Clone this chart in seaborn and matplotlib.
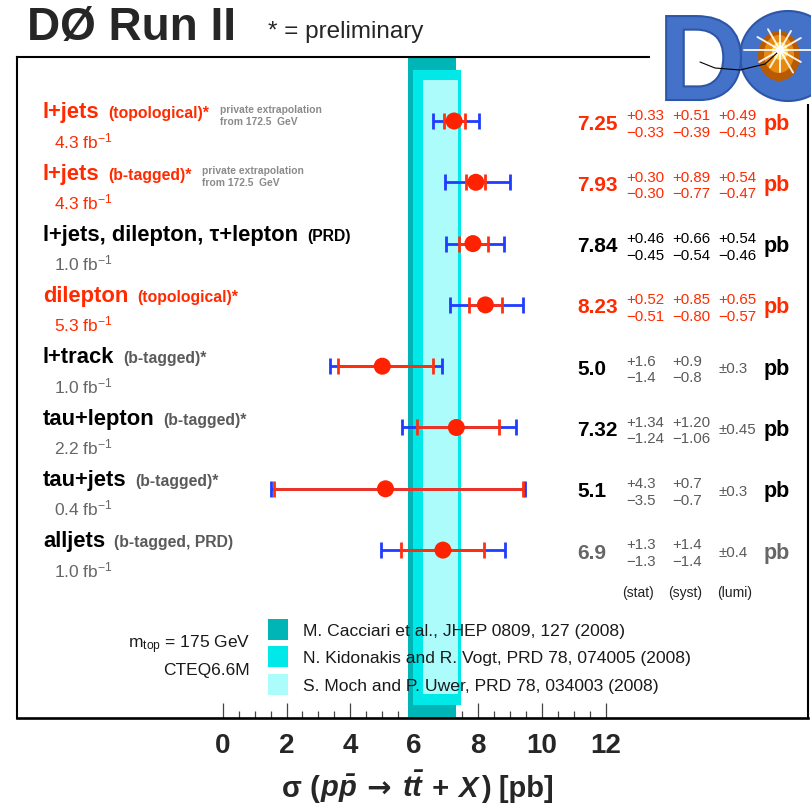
import numpy as np
import matplotlib
matplotlib.use("Agg")
import matplotlib.pyplot as plt
import seaborn as sns
from matplotlib.patches import Ellipse, Rectangle, PathPatch
from matplotlib.textpath import TextPath
from matplotlib.font_manager import FontProperties
from matplotlib.transforms import Affine2D

# ---------------- data ----------------
channels = ["l+jets", "l+jets", "l+jets, dilepton, τ+lepton", "dilepton",
            "l+track", "tau+lepton", "tau+jets", "alljets"]
qualifiers = ["(topological)*", "(b-tagged)*", "(PRD)", "(topological)*",
              "(b-tagged)*", "(b-tagged)*", "(b-tagged)*", "(b-tagged, PRD)"]
extrapolated = [True, True, False, False, False, False, False, False]
lumis = ["4.3", "4.3", "1.0", "5.3", "1.0", "2.2", "0.4", "1.0"]
xsec = ["7.25", "7.93", "7.84", "8.23", "5.0", "7.32", "5.1", "6.9"]
stat_up = ["0.33", "0.30", "0.46", "0.52", "1.6", "1.34", "4.3", "1.3"]
stat_dn = ["0.33", "0.30", "0.45", "0.51", "1.4", "1.24", "3.5", "1.3"]
syst_up = ["0.51", "0.89", "0.66", "0.85", "0.9", "1.20", "0.7", "1.4"]
syst_dn = ["0.39", "0.77", "0.54", "0.80", "0.8", "1.06", "0.7", "1.4"]
lumi_up = ["0.49", "0.54", "0.54", "0.65", "0.3", "0.45", "0.3", "0.4"]
lumi_dn = ["0.43", "0.47", "0.46", "0.57", "0.3", "0.45", "0.3", "0.4"]

theory_names = ["M. Cacciari et al., JHEP 0809, 127 (2008)",
                "N. Kidonakis and R. Vogt, PRD 78, 074005 (2008)",
                "S. Moch and P. Uwer, PRD 78, 034003 (2008)"]
theory_lo = [5.81, 5.97, 6.28]
theory_hi = [7.31, 7.47, 7.38]

tick_values = [0, 2, 4, 6, 8, 10, 12]

# ---------------- style ----------------
sns.set_style("white")
plt.rcParams["font.family"] = ["Liberation Sans", "DejaVu Sans"]
plt.rcParams["mathtext.fontset"] = "custom"
plt.rcParams["mathtext.rm"] = "Liberation Sans"
plt.rcParams["mathtext.it"] = "Liberation Sans:italic"
plt.rcParams["mathtext.bf"] = "Liberation Sans:bold"
plt.rcParams["mathtext.bfit"] = "Liberation Sans:bold:italic"
plt.rcParams["mathtext.sf"] = "Liberation Sans"

RED = "#ff2a00"
GRAY = "#5a5a5a"
LGRAY = "#666666"
label_colors = [RED, RED, "black", RED, "black", "black", "black", "black"]
qual_colors = [RED, RED, "black", RED, GRAY, GRAY, GRAY, GRAY]
lumi_colors = [RED, RED, LGRAY, RED, LGRAY, LGRAY, LGRAY, LGRAY]
value_colors = [RED, RED, "black", RED, "black", "black", "black", LGRAY]
unc_colors = [RED, RED, "black", RED, GRAY, GRAY, GRAY, GRAY]
band_colors = ["#00b5b5", "#00e8e8", "#adfcfc"]
band_yfrac = [(0.0, 1.0), (0.0197, 0.980), (0.0363, 0.965)]

W, H = 811, 809
X0PX, XSCALE = 222.7, 31.917
ROW0PX, ROWSTEP = 121.0, 61.3


def dx(px):
    return (px - X0PX) / XSCALE


def dy(py):
    return (py - ROW0PX) / ROWSTEP


fig = plt.figure(figsize=(W / 100, H / 100), dpi=100)
ax = fig.add_axes([17 / W, 1 - 718 / H, (808 - 17) / W, (718 - 57) / H])
ax.set_xlim(dx(17), dx(808))
ax.set_ylim(dy(718), dy(57))

# theory bands
for lo, hi, c, (y0, y1) in zip(theory_lo, theory_hi, band_colors, band_yfrac):
    ax.axvspan(lo, hi, ymin=y0, ymax=y1, color=c, lw=0, zorder=1)

# measurements
x = np.array([float(v) for v in xsec])
rows = np.arange(len(x))
su = np.array([float(v) for v in stat_up])
sd = np.array([float(v) for v in stat_dn])
yu = np.array([float(v) for v in syst_up])
yd = np.array([float(v) for v in syst_dn])
lu = np.array([float(v) for v in lumi_up])
ld = np.array([float(v) for v in lumi_dn])
tot_up = np.sqrt(su ** 2 + yu ** 2 + lu ** 2)
tot_dn = np.sqrt(sd ** 2 + yd ** 2 + ld ** 2)

ax.errorbar(x, rows, xerr=[tot_dn, tot_up], fmt="none", ecolor="#1f3cff",
            elinewidth=2.0, capsize=5.5, capthick=2.0, zorder=3)
ax.errorbar(x, rows, xerr=[sd, su], fmt="none", ecolor="#ff3010",
            elinewidth=2.0, capsize=5.5, capthick=2.0, zorder=4)
sns.scatterplot(x=x, y=rows, color="#ff2200", s=150, edgecolor="none",
                zorder=5, ax=ax, legend=False)
ax.set_xlabel("")
ax.set_ylabel("")

# axis ticks
ax.set_xticks(tick_values)
ax.set_xticklabels([str(t) for t in tick_values], fontsize=20, fontweight="bold")
ax.set_xticks([v / 2 for v in range(0, 25) if v % 4 != 0], minor=True)
ax.tick_params(axis="x", which="major", direction="in", length=10.5, width=0.9,
               color="#444444", pad=11, bottom=True)
ax.tick_params(axis="x", which="minor", direction="in", length=5, width=0.9,
               color="#444444", bottom=True)
ax.set_yticks([])
for s in ["left", "right", "top"]:
    ax.spines[s].set_linewidth(1.5)
    ax.spines[s].set_color("black")
ax.spines["bottom"].set_linewidth(1.9)
ax.spines["bottom"].set_color("black")

renderer = fig.canvas.get_renderer()


def x_after(t, gap_px):
    bb = t.get_window_extent(renderer)
    return ax.transData.inverted().transform((bb.x1 + gap_px, 0))[0]


# left labels
for i in rows:
    t = ax.text(dx(43), i - 0.045, channels[i], fontsize=15.8, fontweight="bold",
                color=label_colors[i], va="baseline", ha="left", zorder=6)
    q = ax.text(x_after(t, 9), i - 0.045, qualifiers[i], fontsize=11.3,
                fontweight="bold", color=qual_colors[i], va="baseline", zorder=6)
    if extrapolated[i]:
        xp = x_after(q, 10)
        ax.text(xp, i - 0.13, "private extrapolation", fontsize=7.4,
                fontweight="bold", color="#8a8a8a", va="baseline", zorder=6)
        ax.text(xp, i + 0.065, "from 172.5  GeV", fontsize=7.4,
                fontweight="bold", color="#8a8a8a", va="baseline", zorder=6)
    ax.text(dx(54), i + 0.44, lumis[i] + r" fb$^{-1}$", fontsize=12.5,
            color=lumi_colors[i], va="baseline", zorder=6)

# right numbers
for i in rows:
    ax.text(dx(577), i + 0.14, xsec[i], fontsize=15, fontweight="bold",
            color=value_colors[i], va="baseline", zorder=6)
    for col_px, up, dn in [(626, stat_up[i], stat_dn[i]),
                           (672, syst_up[i], syst_dn[i]),
                           (718, lumi_up[i], lumi_dn[i])]:
        if i >= 4 and col_px == 718 and up == dn:
            ax.text(dx(col_px), i + 0.11, "±" + up, fontsize=10.8,
                    color=unc_colors[i], va="baseline", zorder=6)
        else:
            ax.text(dx(col_px), i - 0.01, "+" + up, fontsize=10.8,
                    color=unc_colors[i], va="baseline", zorder=6)
            ax.text(dx(col_px), i + 0.26, "−" + dn, fontsize=10.8,
                    color=unc_colors[i], va="baseline", zorder=6)
    ax.text(dx(764), i + 0.14, "pb", fontsize=15.5, fontweight="bold",
            color=value_colors[i], va="baseline", zorder=6)

for lab, px in [("(stat)", 622), ("(syst)", 668), ("(lumi)", 717)]:
    ax.text(dx(px), dy(597), lab, fontsize=10, color="#222222",
            va="baseline", zorder=6)

# theory legend
for k, (name, c) in enumerate(zip(theory_names, band_colors)):
    top = 619 + 27.5 * k
    ax.add_patch(Rectangle((dx(268), dy(top + 21)), dx(288) - dx(268),
                           dy(top) - dy(top + 21), facecolor=c, lw=0, zorder=6))
    ax.text(dx(303), dy(636 + 27.5 * k), name, fontsize=12.6, color="#1a1a1a",
            va="baseline", zorder=6)

ax.text(dx(250), dy(648), r"m$_{\rm top}$ = 175 GeV", fontsize=12.5,
        ha="right", va="baseline", color="#1a1a1a", zorder=6)
ax.text(dx(250), dy(675), "CTEQ6.6M", fontsize=12.5, ha="right",
        va="baseline", color="#1a1a1a", zorder=6)

# title
fig.text(27 / W, 1 - 40 / H, "DØ Run II", fontsize=33, fontweight="bold",
         va="baseline", ha="left")
fig.text(268 / W, 1 - 38 / H, "* = preliminary", fontsize=17.5,
         va="baseline", ha="left")

# axis title, laid out piece by piece
pieces = ["σ (", r"$\mathbfit{p\bar{p}}$", " → ", r"$\mathbfit{t\bar{t}}$",
          " + ", r"$\mathbfit{X}$", ") [pb]"]
families = [None, None, "DejaVu Sans", None, None, None, None]
objs = []
for p, fam in zip(pieces, families):
    kw = {"family": fam} if fam else {}
    objs.append(fig.text(0, 1 - 797 / H, p, fontsize=21, fontweight="bold",
                         ha="left", va="baseline", **kw))
widths = [o.get_window_extent(renderer).width for o in objs]
cur = 418 - sum(widths) / 2
for o, w in zip(objs, widths):
    o.set_x(cur / W)
    cur += w

# DØ logo (decoration, drawn as shapes)
axl = fig.add_axes([650 / W, 1 - 104 / H, 161 / W, 104 / H])
axl.set_xlim(650, 811)
axl.set_ylim(0, 104)
axl.axis("off")
axl.add_patch(Rectangle((650, 0), 161, 104, facecolor="white", lw=0, zorder=0))
blue = "#4472c8"
axl.add_patch(Ellipse((788, 48), 96, 90, facecolor=blue, edgecolor="#2d56a8",
                      lw=1.5, zorder=1))
axl.add_patch(Ellipse((779, 48), 42, 50, facecolor="#b85a00", lw=0, zorder=2))
axl.add_patch(Ellipse((779, 50), 30, 38, facecolor="#e88a10", lw=0, zorder=2))
axl.add_patch(Ellipse((780, 53), 16, 18, facecolor="#ffd54a", lw=0, zorder=2))
dpath = TextPath((0, 0), "D", size=122, prop=FontProperties(family="Liberation Sans",
                                                            weight="bold"))
dpath = dpath.transformed(Affine2D().translate(658, 4))
axl.add_patch(PathPatch(dpath, facecolor=blue, edgecolor="#2d56a8", lw=1.5,
                        zorder=3))
for ang, ln in [(0, 34), (30, 24), (60, 22), (90, 20), (120, 24), (150, 26),
                (180, 36), (210, 24), (240, 20), (270, 22), (300, 26), (330, 24)]:
    a = np.deg2rad(ang)
    axl.plot([780, 780 + ln * np.cos(a)], [54, 54 + ln * np.sin(a)],
             color="white", lw=1.4, alpha=0.9, zorder=4)
axl.add_patch(Ellipse((780, 54), 8, 8, facecolor="white", lw=0, zorder=5))
axl.plot([700, 715, 740, 765, 778], [42, 36, 34, 40, 52], color="black",
         lw=0.8, zorder=4)

fig.savefig("out.png", dpi=100)
